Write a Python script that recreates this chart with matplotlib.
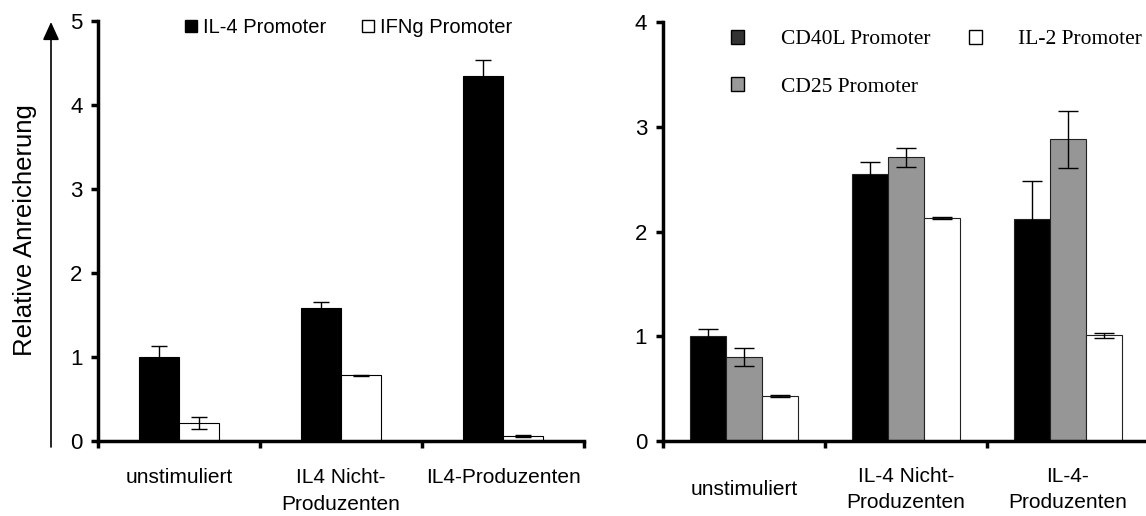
import matplotlib.pyplot as plt
from matplotlib.patches import Patch
import numpy as np

# left chart: IL-4 / IFNg promoter
left_groups = ["unstimuliert", "IL4 Nicht-\nProduzenten", "IL4-Produzenten"]
il4_vals = [1.0, 1.58, 4.35]
il4_err = [0.13, 0.07, 0.18]
ifng_vals = [0.21, 0.78, 0.06]
ifng_err = [0.07, 0.01, 0.01]

# right chart: CD40L / CD25 / IL-2 promoter
right_groups = ["unstimuliert", "IL-4 Nicht-\nProduzenten", "IL-4-\nProduzenten"]
cd40l_vals = [1.0, 2.55, 2.12]
cd40l_err = [0.07, 0.11, 0.36]
cd25_vals = [0.80, 2.71, 2.88]
cd25_err = [0.085, 0.09, 0.27]
il2_vals = [0.43, 2.13, 1.01]
il2_err = [0.01, 0.01, 0.025]

plt.rcParams['font.family'] = ['Liberation Sans', 'DejaVu Sans']

W, H = 1146, 516
fig = plt.figure(figsize=(W / 100, H / 100), dpi=100)

def px_axes(x0, x1, y_top, y_zero):
    return fig.add_axes([x0 / W, (H - y_zero) / H, (x1 - x0) / W, (y_zero - y_top) / H])

ax1 = px_axes(98, 584, 21, 441)
ax2 = px_axes(663, 1149, 22, 441)

def style_axis(ax, ymax, pad):
    for s in ["top", "right"]:
        ax.spines[s].set_visible(False)
    for s in ["left", "bottom"]:
        ax.spines[s].set_linewidth(2.5)
        ax.spines[s].set_capstyle("projecting")
    ax.set_xlim(-0.5, 2.5)
    ax.set_ylim(0, ymax)
    ax.set_yticks(range(ymax + 1))
    ax.set_xticks([-0.5, 0.5, 1.5, 2.5])
    ax.set_xticklabels([])
    ax.tick_params(axis="both", direction="out", width=2.5, length=5, labelsize=16, pad=pad)

style_axis(ax1, 5, 6)
style_axis(ax2, 4, 6.5)

x = np.arange(3)

# left bars
w1 = 0.245
ekw1 = dict(ecolor="black", elinewidth=1, capsize=6, capthick=1)
ax1.bar(x - w1 / 2, il4_vals, w1, color="black", edgecolor="black", linewidth=0.8,
        yerr=il4_err, error_kw=ekw1, zorder=2)
ax1.bar(x + w1 / 2, ifng_vals, w1, color="white", edgecolor="black", linewidth=0.8,
        yerr=ifng_err, error_kw=ekw1, zorder=2)

for i, lab in enumerate(left_groups):
    ax1.annotate(lab, xy=(i, 0), xycoords=ax1.get_xaxis_transform(), xytext=(0, -19.5),
                 textcoords="offset points", ha="center", va="top", fontsize=15, linespacing=1.5)

ax1.legend(handles=[Patch(facecolor="black", edgecolor="black", label="IL-4 Promoter"),
                    Patch(facecolor="white", edgecolor="black", label="IFNg Promoter")],
           ncol=2, frameon=False, fontsize=14.5, loc="upper left",
           bbox_to_anchor=(185 / W, (H - 18) / H), bbox_transform=fig.transFigure,
           borderpad=0, borderaxespad=0, handlelength=0.6, handleheight=0.6,
           handletextpad=0.3, columnspacing=1.75)

# right bars
w2 = 0.222
ekw2 = dict(ecolor="black", elinewidth=1, capsize=7, capthick=1)
ax2.bar(x - w2, cd40l_vals, w2, color="black", edgecolor="#222222", linewidth=0.8,
        yerr=cd40l_err, error_kw=ekw2, zorder=2)
ax2.bar(x, cd25_vals, w2, color="#969696", edgecolor="#222222", linewidth=0.8,
        yerr=cd25_err, error_kw=ekw2, zorder=2)
ax2.bar(x + w2, il2_vals, w2, color="white", edgecolor="#222222", linewidth=0.8,
        yerr=il2_err, error_kw=ekw2, zorder=2)

for i, lab in enumerate(right_groups):
    ax2.annotate(lab, xy=(i, 0), xycoords=ax2.get_xaxis_transform(), xytext=(0, -35),
                 textcoords="offset points", ha="center", va="center", fontsize=15, linespacing=1.45)

ax2.legend(handles=[Patch(facecolor="#333333", edgecolor="black", label="CD40L Promoter"),
                    Patch(facecolor="#999999", edgecolor="black", label="CD25 Promoter"),
                    Patch(facecolor="white", edgecolor="black", label="IL-2 Promoter")],
           ncol=2, frameon=False, loc="upper left",
           prop={"family": "Liberation Serif", "size": 15.5},
           bbox_to_anchor=(731 / W, (H - 30) / H), bbox_transform=fig.transFigure,
           borderpad=0, borderaxespad=0, handlelength=0.6, handleheight=0.6,
           handletextpad=1.7, columnspacing=1.8, labelspacing=1.3)

# y label with arrow
ax1.annotate("", xy=(51 / W, (H - 22) / H), xytext=(51 / W, (H - 447) / H),
             xycoords="figure fraction", textcoords="figure fraction",
             arrowprops=dict(arrowstyle="-|>,head_length=1.1,head_width=0.5",
                             color="black", lw=1.2, shrinkA=0, shrinkB=0))
fig.text(25 / W, (H - 230) / H, "Relative Anreicherung", rotation=90,
         ha="center", va="center", fontsize=18.5)

fig.savefig("out.png", dpi=100)
